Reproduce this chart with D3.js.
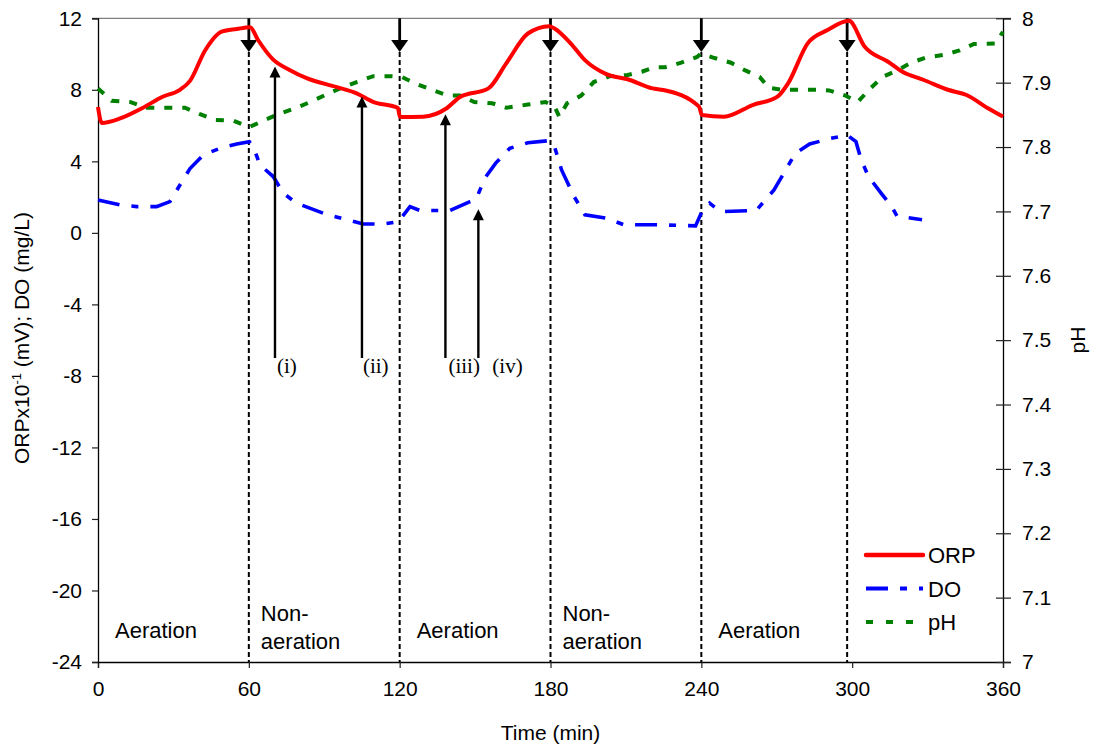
<!DOCTYPE html>
<html>
<head>
<meta charset="utf-8">
<script src="https://cdn.jsdelivr.net/npm/d3@7"></script>
<style>
    html, body { margin: 0; padding: 0; background: #fff; }
    svg { display: block; font-family: Arial, 'Liberation Sans', sans-serif; }
</style>
</head>
<body>
<svg id="chart" width="1094" height="749"></svg>
<script>
// time axis (min)
var orpTime = [0, 1.5, 8.8, 17.9, 25.5, 32.6, 36.6, 42.6, 49.2, 55.2, 60.5, 63.6, 69.6, 76.4, 83, 95, 102.9, 109.4, 119.3, 120.1,
    129.3, 138.7, 144, 155.3, 162.4, 171, 179.5, 181.6, 188, 193.7, 202.2, 210.7, 220.6, 224.9, 239.1, 240.2, 249, 260.4, 270.3,
    274.5, 282.3, 290.2, 298.7, 305, 314.3, 320, 328.5, 338.4, 345.5, 354, 360];
var orpValue = [7.04, 6.15, 6.4, 7.0, 7.6, 8.0, 8.5, 10.2, 11.25, 11.4, 11.5, 10.8, 9.7, 9.1, 8.65, 8.15, 7.8, 7.33, 6.98, 6.48,
    6.5, 6.97, 7.6, 8.08, 9.48, 11.15, 11.56, 11.43, 10.6, 9.66, 8.88, 8.59, 8.08, 7.99, 7.06, 6.59, 6.5, 7.15, 7.62,
    8.36, 10.6, 11.34, 11.86, 10.41, 9.57, 9.01, 8.55, 7.99, 7.71, 6.97, 6.5];

var doTime = [0, 8.8, 15.4, 23.3, 28.6, 32.6, 36.6, 41.9, 48.5, 55.2, 60.2, 61.8, 64.4, 69.7, 73.7, 79, 89.6, 98.9, 105.5, 113.5,
    119.5, 124.1, 128.1, 134.7, 140, 148, 150.4, 153.9, 158.2, 163.8, 171, 179.5, 181.6, 184.4, 189.4, 193.7, 202.2, 209.3, 223.5,
    237.7, 240.5, 243.3, 247.6, 261.8, 268.9, 277.4, 283.1, 291.6, 298, 301.5, 303.6, 306.5, 311.5, 315.7, 317.8, 327.8];
var doValue = [1.84, 1.56, 1.47, 1.47, 1.75, 2.68, 3.6, 4.36, 4.73, 4.97, 5.1, 4.82, 3.8, 3.15, 2.22, 1.66, 1.1, 0.73, 0.5, 0.49,
    0.63, 1.47, 1.25, 1.25, 1.25, 1.75, 1.88, 3.06, 3.9, 4.73, 5.04, 5.16, 4.82, 3.52, 2.03, 1.01, 0.82, 0.45, 0.45,
    0.39, 1.28, 1.66, 1.19, 1.25, 2.4, 4.45, 4.97, 5.29, 5.47, 5.1, 4.08, 3.15, 2.22, 1.47, 0.95, 0.73];

var phTime = [0, 5.4, 12.7, 19.4, 26.7, 34.6, 40.6, 46.5, 53.8, 60.2, 65.8, 71.7, 79, 85, 91, 96.3, 102.9, 109.5, 116.8, 120.8,
    126.1, 132.7, 139.3, 144, 149.7, 156.8, 162.4, 171, 178, 181.6, 183.5, 186.6, 192.2, 197.2, 203.6, 210.7, 216.3, 221.3, 225.6,
    232, 238.3, 239.8, 244.7, 251.8, 257.5, 263.2, 266.8, 271.7, 278.8, 286.6, 290.8, 297.3, 302.2, 307.2, 312.2, 317.8, 323.5,
    329.2, 336.3, 342.7, 348.4, 356.9, 360];
var phValue = [7.891, 7.872, 7.870, 7.861, 7.861, 7.861, 7.851, 7.842, 7.841, 7.831, 7.841, 7.851, 7.861, 7.871, 7.882, 7.891,
    7.901, 7.910, 7.910, 7.909, 7.899, 7.889, 7.880, 7.880, 7.870, 7.868, 7.861, 7.866, 7.870, 7.863, 7.847, 7.868, 7.880, 7.901,
    7.910, 7.912, 7.917, 7.924, 7.924, 7.931, 7.940, 7.945, 7.939, 7.931, 7.919, 7.909, 7.892, 7.889, 7.889, 7.889, 7.888, 7.880,
    7.870, 7.891, 7.909, 7.919, 7.931, 7.939, 7.943, 7.950, 7.960, 7.961, 7.979];

// aeration switch points and phase names
var switchTimes = [60, 120, 180, 240, 298];
var phaseStarts = [0, 60, 120, 180, 240];
var phaseNames = [['Aeration'], ['Non-', 'aeration'], ['Aeration'], ['Non-', 'aeration'], ['Aeration']];

// marked points (i)..(iv)
var markLabels = ['(i)', '(ii)', '(iii)', '(iv)'];
var markTimes = [70.4, 105, 138.2, 151.3];
var markTips = [9.3, 7.62, 6.63, 1.32];
var markBase = -7.0;

var xTicks = [0, 60, 120, 180, 240, 300, 360];
var leftTicks = [-24, -20, -16, -12, -8, -4, 0, 4, 8, 12];
var rightTicks = [7, 7.1, 7.2, 7.3, 7.4, 7.5, 7.6, 7.7, 7.8, 7.9, 8];

(function () {
    'use strict';

    var frame = { left: 98, right: 1003, top: 18.3, bottom: 662 };
    var svg = d3.select('#chart');

    var x = d3.scaleLinear().domain([0, 360]).range([frame.left, frame.right]);
    var yL = d3.scaleLinear().domain([-24, 12]).range([frame.bottom, frame.top]);
    var yR = d3.scaleLinear().domain([7, 8]).range([frame.bottom, frame.top]);

    var fontSize = 21;
    // plain hyphen for negatives, like the original
    var plain = function (d) { return String(d); };

    // top border
    svg.append('line')
        .attr('x1', frame.left - 6).attr('x2', frame.right + 8)
        .attr('y1', frame.top).attr('y2', frame.top)
        .attr('stroke', '#808080').attr('stroke-width', 1.3);

    // axes
    var gx = svg.append('g')
        .attr('transform', 'translate(0,' + frame.bottom + ')')
        .call(d3.axisBottom(x).tickValues(xTicks).tickSizeOuter(0).tickSize(6).tickPadding(13).tickFormat(plain));
    var gl = svg.append('g')
        .attr('transform', 'translate(' + frame.left + ',0)')
        .call(d3.axisLeft(yL).tickValues(leftTicks).tickSizeOuter(0).tickSize(6).tickPadding(10).tickFormat(plain));
    var gr = svg.append('g')
        .attr('transform', 'translate(' + frame.right + ',0)')
        .call(d3.axisRight(yR).tickValues(rightTicks).tickSizeOuter(0).tickSize(8).tickPadding(11)
            .tickFormat(function (d) { return d3.format('.1~f')(d); }));
    gr.selectAll('.tick line').attr('x1', -7);

    [gx, gl, gr].forEach(function (g) {
        g.select('.domain').attr('stroke', '#000').attr('stroke-width', 1.3);
        g.selectAll('.tick line').attr('stroke', '#222').attr('stroke-width', 1.2);
        g.selectAll('.tick text')
            .attr('fill', '#000')
            .style('font-family', 'Arial, "Liberation Sans", sans-serif')
            .style('font-size', fontSize + 'px');
    });

    // axis titles
    var leftTitle = svg.append('text')
        .attr('transform', 'translate(29,' + 338 + ') rotate(-90)')
        .attr('text-anchor', 'middle')
        .style('font-size', fontSize + 'px');
    leftTitle.append('tspan').text('ORPx10');
    leftTitle.append('tspan').attr('dy', -8).style('font-size', '13px').text('-1');
    leftTitle.append('tspan').attr('dy', 8).text(' (mV); DO (mg/L)');

    svg.append('text')
        .attr('transform', 'translate(1085,340) rotate(-90)')
        .attr('text-anchor', 'middle')
        .style('font-size', fontSize + 'px')
        .text('pH');

    svg.append('text')
        .attr('x', (frame.left + frame.right) / 2)
        .attr('y', 740)
        .attr('text-anchor', 'middle')
        .style('font-size', fontSize + 'px')
        .text('Time (min)');

    // switch lines with down arrows
    switchTimes.forEach(function (t) {
        var px = x(t);
        var tipY = 52;
        svg.append('line')
            .attr('x1', px).attr('x2', px)
            .attr('y1', tipY).attr('y2', frame.bottom)
            .attr('stroke', '#000').attr('stroke-width', 2)
            .attr('stroke-dasharray', '5,3');
        svg.append('line')
            .attr('x1', px).attr('x2', px)
            .attr('y1', frame.top).attr('y2', tipY - 8)
            .attr('stroke', '#000').attr('stroke-width', 2.8);
        svg.append('path')
            .attr('d', 'M' + (px - 8.5) + ',' + (tipY - 12) + 'L' + (px + 8.5) + ',' + (tipY - 12) + 'L' + px + ',' + tipY + 'Z')
            .attr('fill', '#000');
    });

    // phase labels
    phaseStarts.forEach(function (t, i) {
        var lines = phaseNames[i];
        var px = x(t) + (lines.length > 1 ? 12 : 17);
        lines.forEach(function (s, j) {
            svg.append('text')
                .attr('x', px)
                .attr('y', lines.length > 1 ? 621 + j * 28 : 638)
                .style('font-size', '22px')
                .text(s);
        });
    });

    // series
    function series(times, values) {
        return times.map(function (t, i) { return [t, values[i]]; });
    }

    var lineL = d3.line().x(function (d) { return x(d[0]); }).y(function (d) { return yL(d[1]); });
    var curveL = d3.line().curve(d3.curveMonotoneX).x(function (d) { return x(d[0]); }).y(function (d) { return yL(d[1]); });
    var lineR = d3.line().x(function (d) { return x(d[0]); }).y(function (d) { return yR(d[1]); });

    svg.append('path')
        .datum(series(phTime, phValue))
        .attr('d', lineR)
        .attr('fill', 'none').attr('stroke', '#008000').attr('stroke-width', 4)
        .attr('stroke-dasharray', '8,10');

    svg.append('path')
        .datum(series(doTime, doValue))
        .attr('d', lineL)
        .attr('fill', 'none').attr('stroke', '#0000ff').attr('stroke-width', 3.6)
        .attr('stroke-dasharray', '22,12,7,12');

    svg.append('path')
        .datum(series(orpTime, orpValue))
        .attr('d', curveL)
        .attr('fill', 'none').attr('stroke', '#ff0000').attr('stroke-width', 4)
        .attr('stroke-linejoin', 'round');

    // up arrows for marked points
    var labelDx = [2, 1, 3, 14];
    markTimes.forEach(function (t, i) {
        var px = x(t);
        var tip = yL(markTips[i]);
        var base = yL(markBase);
        svg.append('line')
            .attr('x1', px).attr('x2', px)
            .attr('y1', tip + 8).attr('y2', base)
            .attr('stroke', '#000').attr('stroke-width', 2.4);
        svg.append('path')
            .attr('d', 'M' + (px - 5.5) + ',' + (tip + 11) + 'L' + (px + 5.5) + ',' + (tip + 11) + 'L' + px + ',' + tip + 'Z')
            .attr('fill', '#000');
        svg.append('text')
            .attr('x', px + labelDx[i])
            .attr('y', base + 15)
            .style('font-family', '"Liberation Serif", "Times New Roman", serif')
            .style('font-size', '21px')
            .text(markLabels[i]);
    });

    // legend
    var legendItems = [
        { name: 'ORP', color: '#ff0000', dash: null, width: 4.5 },
        { name: 'DO', color: '#0000ff', dash: '22,12,7,12', width: 4 },
        { name: 'pH', color: '#008000', dash: '7,13', width: 4 }
    ];
    var legend = svg.append('g').attr('transform', 'translate(866,555)');
    legendItems.forEach(function (d, i) {
        var g = legend.append('g').attr('transform', 'translate(0,' + (i * 33.5) + ')');
        g.append('line')
            .attr('x1', 0).attr('x2', 57)
            .attr('stroke', d.color).attr('stroke-width', d.width)
            .attr('stroke-linecap', d.dash ? 'butt' : 'round')
            .attr('stroke-dasharray', d.dash);
        g.append('text')
            .attr('x', 62).attr('y', 8)
            .style('font-size', '22px')
            .text(d.name);
    });
}());
</script>
</body>
</html>
